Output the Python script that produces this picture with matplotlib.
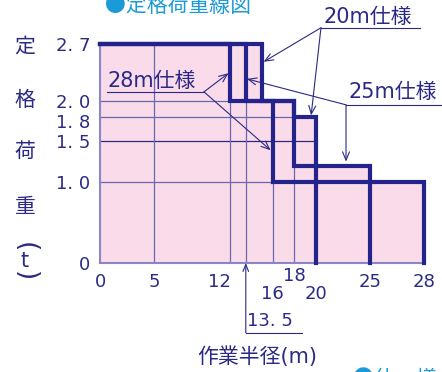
import matplotlib.pyplot as plt
from matplotlib.transforms import ScaledTranslation
import numpy as np

plt.rcParams['font.family'] = ['DejaVu Sans', 'Noto Sans CJK JP']

# 定格荷重線 (作業半径 m, 定格荷重 t)
spec20_x = [0, 15, 15, 18, 18, 20, 20]
spec20_y = [2.7, 2.7, 2.0, 2.0, 1.8, 1.8, 0]
spec25_x = [0, 13.5, 13.5, 18, 18, 25, 25]
spec25_y = [2.7, 2.7, 2.0, 2.0, 1.2, 1.2, 0]
spec28_x = [0, 12, 12, 16, 16, 28, 28]
spec28_y = [2.7, 2.7, 2.0, 2.0, 1.0, 1.0, 0]

# 塗りつぶし範囲 (3本の外形)
area_x = [0, 0, 15, 15, 18, 18, 20, 20, 25, 25, 28, 28]
area_y = [0, 2.7, 2.7, 2.0, 2.0, 1.8, 1.8, 1.2, 1.2, 1.0, 1.0, 0]

yticks = [0, 1.0, 1.5, 1.8, 2.0, 2.7]
ytick_labels = ["0", "1. 0", "1. 5", "1. 8", "2. 0", "2. 7"]
xticks = [0, 5, 12, 16, 18, 20, 25, 28]
xtick_labels = ["0", "5", "12", "16", "18", "20", "25", "28"]
grid_y = [1.0, 1.5, 1.8, 2.0]
grid_x = [5, 12, 13.5, 16, 18]

navy = '#23238b'
text_c = '#2a2a86'
pink = '#f9dbe9'
cyan = '#1b9ad8'


# 25m 以降は図の上で横に引き伸ばされている
def fwd(x):
    x = np.asarray(x, dtype=float)
    return np.where(x <= 25, x, 25 + (x - 25) * 1.667)


def inv(x):
    x = np.asarray(x, dtype=float)
    return np.where(x <= 25, x, 25 + (x - 25) / 1.667)


fig = plt.figure(figsize=(4.42, 3.72), dpi=100)
ax = fig.add_axes([100 / 442, 109 / 372, 324 / 442, 219 / 372])
ax.set_xscale('function', functions=(fwd, inv))
ax.set_xlim(0, 28)
ax.set_ylim(0, 2.7)

poly = ax.fill(area_x, area_y, color=pink, lw=0, zorder=1)[0]

for gy in grid_y:
    c = '#2a2a80' if gy == 1.5 else '#6a66b4'
    ln, = ax.plot([0, 28], [gy, gy], color=c, lw=0.9, zorder=2)
    ln.set_clip_path(poly)
for gx in grid_x:
    ln, = ax.plot([gx, gx], [0, 2.7], color='#6a66b4', lw=0.9, zorder=2)
    ln.set_clip_path(poly)

for xs, ys in [(spec20_x, spec20_y), (spec25_x, spec25_y), (spec28_x, spec28_y)]:
    ax.plot(xs, ys, color=navy, lw=3.0, zorder=4, clip_on=False,
            solid_joinstyle='miter', solid_capstyle='projecting')

for s in ['top', 'right']:
    ax.spines[s].set_visible(False)
for s in ['left', 'bottom']:
    ax.spines[s].set_color('#8a86c6')
    ax.spines[s].set_linewidth(1.5)
    ax.spines[s].set_zorder(3)

ax.set_yticks(yticks, ytick_labels)
ax.tick_params(axis='y', length=0, pad=7, labelsize=13, labelcolor=text_c)
ax.set_xticks([])
for lab in ax.get_yticklabels():
    if lab.get_text() == "1. 8":
        lab.set_transform(lab.get_transform() + ScaledTranslation(0, -3 / 72, fig.dpi_scale_trans))

offsets = {12: (-7, -14), 16: (0, -22.5), 18: (0, -9.5), 20: (0, -22.5)}
for x, lab in zip(xticks, xtick_labels):
    dx, dy = offsets.get(x, (0, -14))
    ax.annotate(lab, xy=(x, 0), xycoords=('data', 'axes fraction'),
                xytext=(dx, dy), textcoords='offset points',
                ha='center', va='center', fontsize=13, color=text_c)

# 13.5 の引き出し
ax.annotate('', xy=(13.5, 0), xytext=(13.5, -0.86),
            arrowprops=dict(arrowstyle='->,head_length=0.5,head_width=0.2',
                            color=text_c, lw=0.8, shrinkA=0, shrinkB=0),
            annotation_clip=False)
ax.plot([13.5, 18.7], [-0.86, -0.86], color=text_c, lw=0.8, clip_on=False)
ax.text(13.65, -0.72, "13. 5", fontsize=13, color=text_c, ha='left', va='center')

arrow = dict(arrowstyle='->,head_length=0.6,head_width=0.25',
             color=text_c, lw=0.8, shrinkA=0, shrinkB=0)

# 28m仕様
ax.text(0.65, 2.24, "28m仕様", fontsize=15, color=text_c, ha='left', va='center', zorder=6)
ax.plot([0.65, 9.63], [2.11, 2.11], color=text_c, lw=0.8, zorder=6)
for tx, ty in [(11.9, 2.34), (15.8, 1.39)]:
    ax.annotate('', xy=(tx, ty), xytext=(9.63, 2.11), arrowprops=arrow,
                annotation_clip=False, zorder=6)

# 20m仕様
ax.text(20.65, 3.03, "20m仕様", fontsize=15, color=text_c, ha='left', va='center')
ax.plot([20.46, 27.78], [2.90, 2.90], color=text_c, lw=0.8, clip_on=False)
for tx, ty in [(15.15, 2.48), (19.55, 1.82)]:
    ax.annotate('', xy=(tx, ty), xytext=(20.46, 2.90), arrowprops=arrow,
                annotation_clip=False, zorder=6)

# 25m仕様
ax.text(23.05, 2.11, "25m仕様", fontsize=15, color=text_c, ha='left', va='center')
ax.plot([22.78, 28.94], [1.95, 1.95], color=text_c, lw=0.8, clip_on=False)
for tx, ty in [(13.6, 2.27), (22.78, 1.25)]:
    ax.annotate('', xy=(tx, ty), xytext=(22.78, 1.95), arrowprops=arrow,
                annotation_clip=False, zorder=6)

# 縦書きの軸ラベル
ylab_x = 25 / 442
for ch, py in [("定", 47), ("格", 100), ("荷", 152), ("重", 207)]:
    fig.text(ylab_x, 1 - py / 372, ch, fontsize=15, color=text_c,
             ha='center', va='center', family='Noto Sans CJK JP')
fig.text(ylab_x, 1 - 247 / 372, "(", fontsize=19, color=text_c, ha='center', va='center', rotation=-90)
fig.text(ylab_x, 1 - 261 / 372, "t", fontsize=15, color=text_c, ha='center', va='center')
fig.text(ylab_x, 1 - 276 / 372, ")", fontsize=19, color=text_c, ha='center', va='center', rotation=-90)

fig.text(257 / 442, 1 - 357 / 372, "作業半径(m)", fontsize=15, color=text_c,
         ha='center', va='center')

fig.text(105 / 442, 1 - 12 / 372, "●定格荷重線図", fontsize=15, color=cyan,
         ha='left', va='baseline', family='Noto Sans CJK JP')
fig.text(353 / 442, -13 / 372, "●仕　様", fontsize=15, color=cyan,
         ha='left', va='baseline', family='Noto Sans CJK JP')

fig.savefig('out.png', dpi=100)
